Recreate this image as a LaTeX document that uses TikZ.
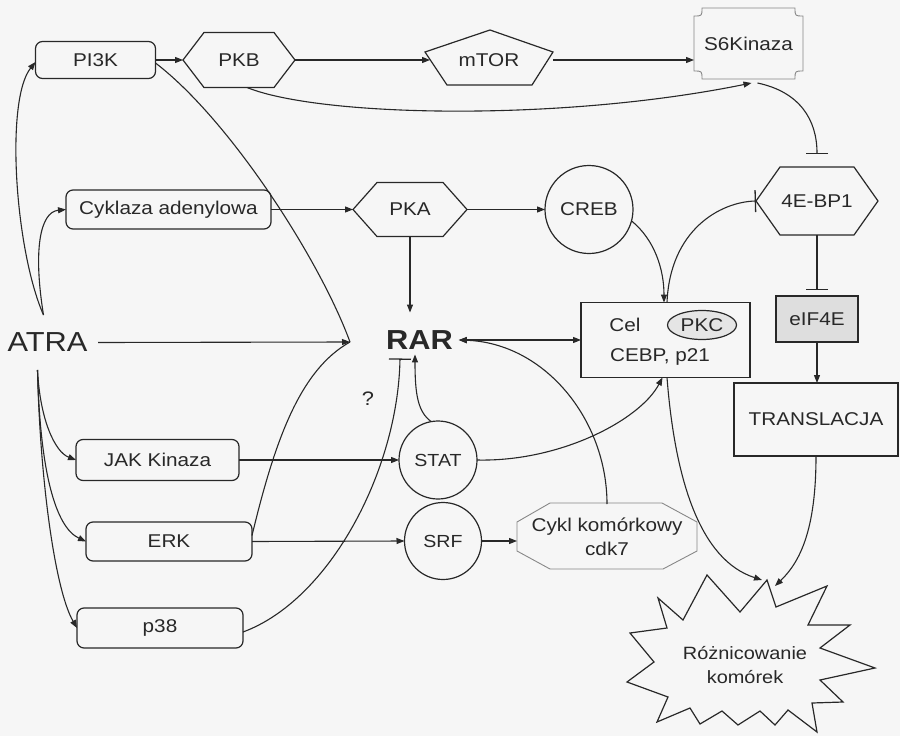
\documentclass[tikz,border=0pt]{standalone}
\usepackage{fontspec}
\setmainfont{Liberation Sans}[FakeStretch=1.12]
\usetikzlibrary{arrows.meta,calc,shapes.geometric}
\definecolor{ink}{RGB}{40,40,40}
\definecolor{bg}{RGB}{246,246,246}
\definecolor{soft}{RGB}{135,135,135}
\newcommand\drawhex[2]{\draw[line width=1.2pt] (#1.west) -- ([xshift=#2]#1.north west) -- ([xshift=-#2]#1.north east) -- (#1.east) -- ([xshift=-#2]#1.south east) -- ([xshift=#2]#1.south west) -- cycle;}
\begin{document}
\begin{tikzpicture}[x=1pt,y=-1pt,color=ink,
  base/.style={font=\fontsize{18.5}{24}\selectfont, inner sep=0pt, outer sep=0pt, align=center},
  rbox/.style={base, draw, rounded corners=7pt, line width=1.2pt},
  box/.style={base, draw, line width=1.2pt},
  circ/.style={base, draw, circle, line width=1.2pt},
  arr/.style={-{Triangle[length=8pt,width=6pt]}, line width=1.1pt},
  darr/.style={{Triangle[length=8pt,width=6pt]}-{Triangle[length=8pt,width=6pt]}, line width=1.1pt},
  inh/.style={-{Bar[width=22pt,line width=1.3pt]}, line width=1.1pt},
  plain/.style={line width=1.1pt}]
\fill[bg] (0,0) rectangle (900,736);
\useasboundingbox (0,0) rectangle (900,736);

% nodes
\node[rbox, minimum width=120pt, minimum height=37pt] (pi3k) at (95.5,60) {PI3K};
\node[base, minimum width=112pt, minimum height=55pt] (pkb) at (239,60) {PKB};
\drawhex{pkb}{21pt}
\node[base, minimum width=128pt, minimum height=55pt] (mtor) at (489,60) {mTOR};
\draw[line width=1.2pt] (490,30) -- (553,52) -- (532,85) -- (447,85) -- (425,52) -- cycle;
\node[base, minimum width=109pt, minimum height=71pt] (s6k) at (748.5,43.5) {S6Kinaza};
\draw[soft, line width=0.9pt] (702,8) -- (795,8) .. controls (795,16) .. (803,16) -- (803,71) .. controls (795,71) .. (795,79) -- (702,79) .. controls (702,71) .. (694,71) -- (694,16) .. controls (702,16) .. (702,8) -- cycle;

\node[rbox, minimum width=205pt, minimum height=39pt] (cyk) at (168.5,209.5) {Cyklaza adenylowa};
\node[base, minimum width=114pt, minimum height=54pt] (pka) at (410,209.5) {PKA};
\drawhex{pka}{24pt}
\node[circ, minimum size=88pt] (creb) at (589,209.5) {CREB};
\node[base, minimum width=122pt, minimum height=68pt] (e4bp) at (817,201) {4E-BP1};
\drawhex{e4bp}{24pt}
\node[box, fill=black!13, minimum width=82pt, minimum height=46pt] (eif) at (817,319) {eIF4E};
\node[box, minimum width=164pt, minimum height=73pt] (trans) at (816,419.5) {TRANSLACJA};

\node[box, minimum width=169pt, minimum height=75pt] (cel) at (665.5,340) {};
\node[base] (celt) at (625,325) {Cel};
\node[base, draw, ellipse, fill=black!10, line width=1.2pt, minimum width=69pt, minimum height=29pt] (pkc) at (702,325) {PKC};
\node[base] (cebp) at (660,357) {CEBP, p21};

\node[base, font=\fontsize{27.5}{30}\selectfont, minimum width=101pt, minimum height=55pt] (atra) at (47.5,342.5) {ATRA};
\node[base, font=\fontsize{27.5}{30}\selectfont\bfseries] (rar) at (419.5,340) {RAR};
\node[base, font=\fontsize{19.5}{24}\selectfont] (q) at (368,399) {?};
\coordinate (conv) at (350,342);

\node[rbox, minimum width=163pt, minimum height=41pt] (jak) at (157.5,460) {JAK Kinaza};
\node[rbox, minimum width=166pt, minimum height=39pt] (erk) at (169,541.5) {ERK};
\node[rbox, minimum width=166pt, minimum height=40pt] (p38) at (160,628) {p38};
\node[circ, minimum size=78pt, font=\fontsize{17.5}{20}\selectfont] (stat) at (438,460) {STAT};
\node[circ, minimum size=77pt, font=\fontsize{17.5}{20}\selectfont] (srf) at (443,541) {SRF};

\node[base, minimum width=180pt, minimum height=66pt] (cdk) at (607,537) {Cykl komórkowy\\cdk7};
\draw[soft, line width=0.9pt] (517,522) -- (550,503) -- (662,503) -- (697,522) -- (697,551) -- (663,569) -- (550,569) -- (517,551) -- cycle;

\node[base, minimum width=248pt, minimum height=157pt] (roz) at (751,653.5) {};
\draw[line width=1.2pt] (658,598) -- (683,620) -- (707,575) -- (740,612) -- (767,580) -- (776,607) -- (827,586) -- (808,625) -- (850,625) -- (820,648) -- (875,668) -- (820,680) -- (843,702) -- (812,703) -- (817,732) -- (788,710) -- (775,725) -- (760,711) -- (738,725) -- (722,711) -- (700,724) -- (690,708) -- (657,722) -- (668,697) -- (627,682) -- (654,662) -- (630,633) -- (667,628) -- cycle;
\node[base, font=\fontsize{17.8}{24}\selectfont] (rozt) at (745,665) {Różnicowanie\\komórek};

% straight connectors
\draw[arr] (pi3k.east) -- (pkb.west);
\draw[arr] (pkb.east) -- ([xshift=5pt]mtor.west);
\draw[arr] (mtor.east) -- (mtor.east -| s6k.west);
\draw[arr] (cyk.east) -- (pka.west);
\draw[arr] (pka.east) -- (creb.west);
\draw[arr] (pka.south) -- ([yshift=18pt]pka.south |- rar.north);
\draw[darr] ([xshift=6pt]rar.east) -- (cel.west);
\draw[arr] (jak.east) -- (stat.west);
\draw[arr] (erk.east) -- (srf.west);
\draw[arr] (srf.east) -- (srf.east -| cdk.west);
\draw[arr] (eif.south) -- (eif.south |- trans.north);
\draw[inh] (e4bp.south) -- ([yshift=6pt]eif.north);

% ATRA connectors
\draw[arr] ([xshift=-4pt]atra.north) .. controls (15,250) and (5,100) .. ([yshift=-2pt]pi3k.west);
\draw[arr] ([xshift=-4pt]atra.north) .. controls (33,250) and (40,212) .. (cyk.west);
\draw[arr] ([xshift=-10pt]atra.south) .. controls (40,420) and (55,452) .. (jak.west);
\draw[arr] ([xshift=-10pt]atra.south) .. controls (40,470) and (55,527) .. (erk.west);
\draw[arr] ([xshift=-10pt]atra.south) .. controls (40,480) and (55,590) .. (p38.west);
\draw[arr] (atra.east) -- (conv);
\draw[plain] ([yshift=-3pt]pi3k.east) .. controls (230,120) and (320,260) .. (conv);
\draw[plain] ([yshift=6pt]erk.east) .. controls (275,440) and (300,370) .. (conv);
\draw[inh] ([yshift=-4pt]p38.east) .. controls (330,600) and (398,470) .. ([xshift=-19.5pt,yshift=-9pt]rar.south);

% other curves
\draw[arr] ([xshift=8pt]pkb.south) .. controls (320,117) and (560,122) .. ([xshift=3pt,yshift=-4pt]s6k.south);
\draw[inh] ([xshift=9pt,yshift=-4pt]s6k.south) .. controls (800,92) and (817,120) .. ([yshift=13pt]e4bp.north);
\draw[arr] (stat.100) .. controls (418,412) and (415,395) .. ([xshift=-4.5pt,yshift=-5pt]rar.south);
\draw[arr] (cdk.north) .. controls (607,420) and (545,343) .. ([xshift=6pt]rar.east);
\draw[arr] (stat.east) .. controls (560,462) and (640,420) .. ([xshift=-3pt]cel.south);
\draw[arr] (creb.-15) .. controls (655,240) and (664,270) .. ([xshift=-1.5pt]cel.north);
\draw[inh] ([xshift=1.5pt]cel.north) .. controls (670,230) and (720,202) .. (e4bp.west);
\draw[arr] ([xshift=1.5pt]cel.south) .. controls (675,480) and (700,560) .. ([xshift=11pt,yshift=-5pt]roz.north);
\draw[arr] (trans.south) .. controls (816,530) and (800,562) .. ([xshift=24pt,yshift=-11pt]roz.north);
\end{tikzpicture}
\end{document}
